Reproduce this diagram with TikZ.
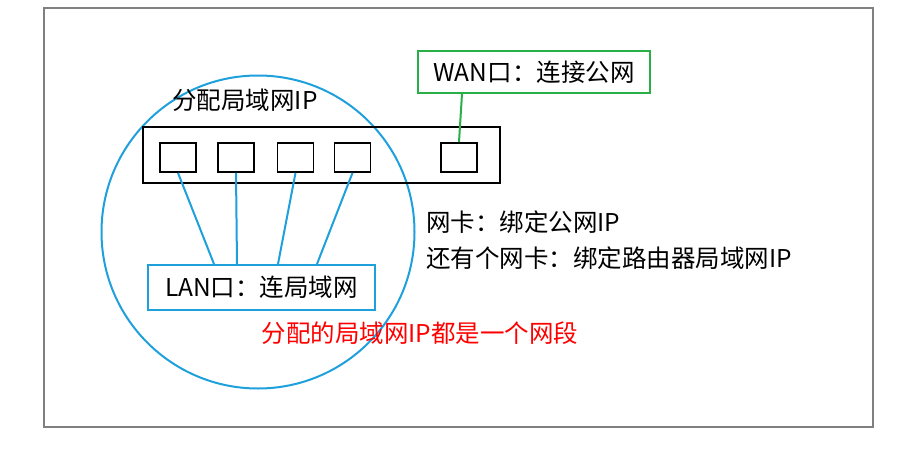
\documentclass[tikz,border=0pt]{standalone}
\usepackage{fontspec}
\setmainfont{Noto Sans CJK SC}
\definecolor{gr}{RGB}{40,175,70}
\definecolor{bl}{RGB}{30,160,220}
\begin{document}
\begin{tikzpicture}[x=1pt,y=-1pt,
  sq/.style={draw,line width=1.8pt,minimum width=36pt,minimum height=29pt,inner sep=0pt},
  txt/.style={font=\fontsize{24.5}{28}\selectfont,inner sep=0pt},
  blu/.style={draw=bl,line width=2pt}]
\useasboundingbox (0,0) rectangle (914,453);
\draw[line width=2pt,gray] (44,8) rectangle (873,427);
\node[blu,circle,minimum size=313pt] (c) at (258,232) {};
\node[draw,line width=2pt,minimum width=357pt,minimum height=56pt,inner sep=0pt] (bar) at (321.5,155) {};
\node[sq] (s1) at (178,157.5) {};
\node[sq] (s2) at (236,157.5) {};
\node[sq] (s3) at (295.5,157.5) {};
\node[sq] (s4) at (352.5,157.5) {};
\node[sq] (s5) at (459,157.5) {};
\node[draw=gr,line width=2pt,minimum width=232pt,minimum height=42pt,inner sep=0pt,txt] (wan) at (534,72) {WAN口：连接公网};
\node[blu,minimum width=227pt,minimum height=45pt,inner sep=0pt,txt] (lan) at (261.5,287.5) {LAN口：连局域网};
\draw[line width=2pt,gr] (wan.south -| 462,0) -- (s5.north);
\begin{scope}[line width=2pt,bl]
\draw (s1.south) -- (lan.north -| 214,0);
\draw (s2.south) -- (lan.north -| 237,0);
\draw (s3.south) -- (lan.north -| 278,0);
\draw (s4.south) -- (lan.north -| 317,0);
\end{scope}
\node[txt] (t1) at (245,100) {分配局域网IP};
\node[txt,anchor=west] (t2) at (426,222) {网卡：绑定公网IP};
\node[txt,anchor=west] (t3) at (426,258) {还有个网卡：绑定路由器局域网IP};
\node[txt,text=red] (t4) at (420,333) {分配的局域网IP都是一个网段};
\end{tikzpicture}
\end{document}
